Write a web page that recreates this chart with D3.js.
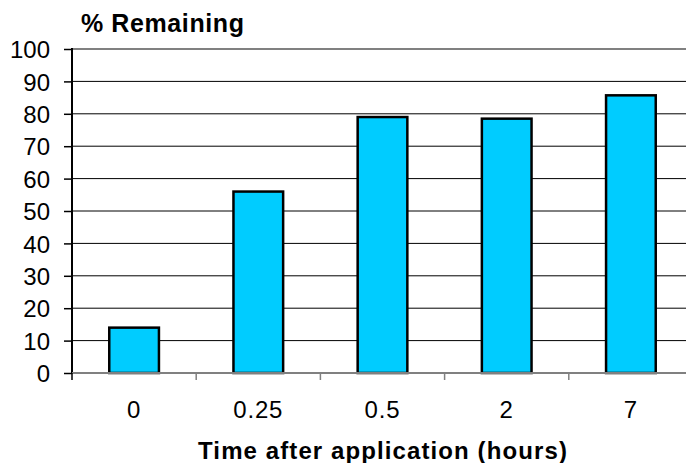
<!DOCTYPE html>
<html>
<head>
<meta charset="utf-8">
<script src="https://cdn.jsdelivr.net/npm/d3@7"></script>
<style>
  body { margin: 0; background: #fff; }
  svg { display: block; font-family: Arial, "Liberation Sans", sans-serif; }
</style>
</head>
<body>
<div id="chart"></div>
<script>
const categories = ["0", "0.25", "0.5", "2", "7"];
const remaining = [14, 56, 79, 78.5, 85.7];
const yTicks = [0, 10, 20, 30, 40, 50, 60, 70, 80, 90, 100];

const width = 686, height = 463;
const plotLeft = 72, plotRight = 693, plotTop = 49, plotBottom = 373;

const svg = d3.select("#chart").append("svg")
    .attr("width", width)
    .attr("height", height);

let x = d3.scaleBand()
    .domain(categories)
    .range([plotLeft, plotRight])
    .paddingInner(0.6)
    .paddingOuter(0.3);

let y = d3.scaleLinear()
    .domain([0, 100])
    .range([plotBottom, plotTop]);

// gridlines
svg.append("g")
    .selectAll("line")
    .data(yTicks.filter(d => d > 0 && d < 100))
    .join("line")
    .attr("x1", plotLeft).attr("x2", plotRight)
    .attr("y1", d => y(d)).attr("y2", d => y(d))
    .attr("stroke", "#000")
    .attr("stroke-width", 1);

// plot area top border
svg.append("line")
    .attr("x1", plotLeft).attr("x2", plotRight)
    .attr("y1", y(100)).attr("y2", y(100))
    .attr("stroke", "#808080")
    .attr("stroke-width", 2);

// bars
svg.append("g")
    .selectAll("rect")
    .data(remaining)
    .join("rect")
    .attr("x", (d, i) => x(categories[i]))
    .attr("y", d => y(d))
    .attr("width", x.bandwidth())
    .attr("height", d => y(0) - y(d))
    .attr("fill", "#00CCFF")
    .attr("stroke", "#000")
    .attr("stroke-width", 2.5);

// y axis
const yAxis = svg.append("g")
    .attr("transform", `translate(${plotLeft},0)`)
    .call(d3.axisLeft(y).tickValues(yTicks).tickSize(8).tickPadding(14));
yAxis.select(".domain").attr("stroke", "#000").attr("stroke-width", 2)
    .attr("d", `M0,${plotTop - 1}V${plotBottom}`);
yAxis.selectAll(".tick line").attr("stroke", "#000").attr("stroke-width", 1.5);
yAxis.selectAll(".tick text")
    .attr("font-size", 24)
    .attr("fill", "#000")
    .attr("dy", "0.36em")
    .attr("font-family", "Arial, 'Liberation Sans', sans-serif");

// x axis (ticks on band boundaries)
const bounds = categories.map(c => x(c) - x.step() * x.paddingInner() / 2);
bounds[0] = plotLeft;
const xg = svg.append("g");
xg.append("line")
    .attr("x1", plotLeft).attr("x2", plotRight)
    .attr("y1", plotBottom).attr("y2", plotBottom)
    .attr("stroke", "#808080").attr("stroke-width", 2);
xg.selectAll("line.tk")
    .data(bounds)
    .join("line")
    .attr("class", "tk")
    .attr("x1", d => d).attr("x2", d => d)
    .attr("y1", plotBottom).attr("y2", plotBottom + 7)
    .attr("stroke", (d, i) => i === 0 ? "#000" : "#808080")
    .attr("stroke-width", 1.5);
xg.selectAll("text")
    .data(categories)
    .join("text")
    .attr("x", d => x(d) + x.bandwidth() / 2)
    .attr("y", 418)
    .attr("text-anchor", "middle")
    .attr("font-size", 24)
    .attr("letter-spacing", 0.8)
    .text(d => d);

// titles
svg.append("text")
    .attr("x", 81)
    .attr("y", 32)
    .attr("font-size", 25)
    .attr("font-weight", "bold")
    .attr("letter-spacing", 0.6)
    .text("% Remaining");

svg.append("text")
    .attr("x", 383)
    .attr("y", 459)
    .attr("text-anchor", "middle")
    .attr("font-size", 24)
    .attr("font-weight", "bold")
    .attr("letter-spacing", 1.1)
    .text("Time after application (hours)");
</script>
</body>
</html>
